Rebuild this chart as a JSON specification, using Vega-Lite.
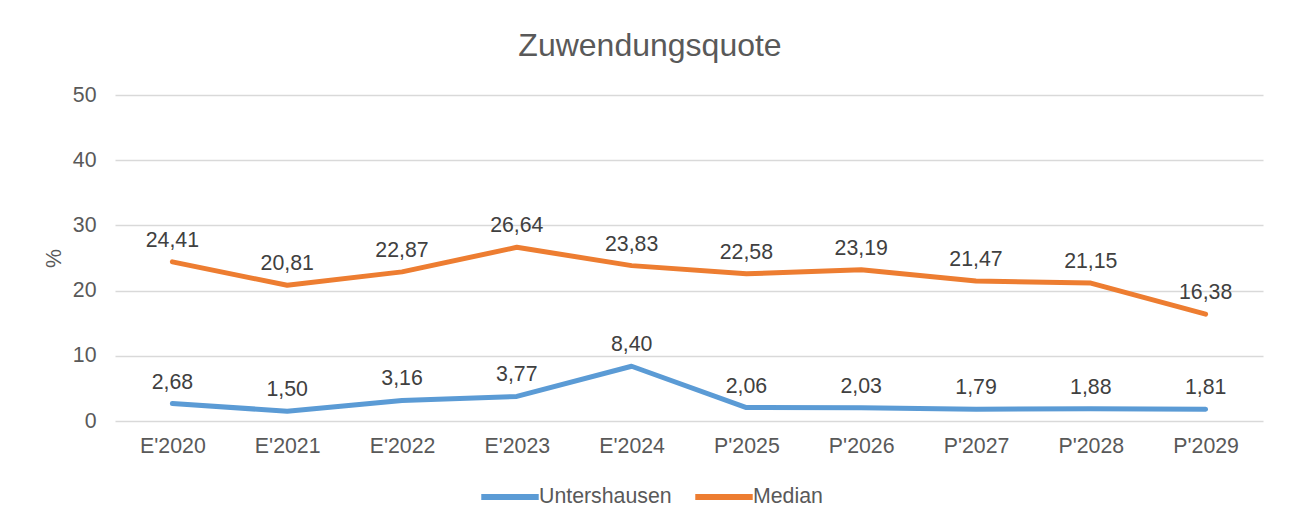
{
  "$schema": "https://vega.github.io/schema/vega-lite/v6.json",
  "autosize": {"type": "none"},
  "width": 1148,
  "height": 326,
  "padding": {"left": 115, "top": 95, "right": 28, "bottom": 105},
  "background": "white",
  "config": {
    "font": "Liberation Sans",
    "view": {"stroke": null},
    "locale": {"number": {"decimal": ",", "thousands": ".", "grouping": [3], "currency": ["", " €"]}}
  },
  "title": {"text": "Zuwendungsquote", "fontSize": 32, "fontWeight": "normal", "color": "#595959", "offset": 21, "dx": -39},
  "data": {"values": [
    {"jahr": "E'2020", "serie": "Untershausen", "wert": 2.68},
    {"jahr": "E'2021", "serie": "Untershausen", "wert": 1.50},
    {"jahr": "E'2022", "serie": "Untershausen", "wert": 3.16},
    {"jahr": "E'2023", "serie": "Untershausen", "wert": 3.77},
    {"jahr": "E'2024", "serie": "Untershausen", "wert": 8.40},
    {"jahr": "P'2025", "serie": "Untershausen", "wert": 2.06},
    {"jahr": "P'2026", "serie": "Untershausen", "wert": 2.03},
    {"jahr": "P'2027", "serie": "Untershausen", "wert": 1.79},
    {"jahr": "P'2028", "serie": "Untershausen", "wert": 1.88},
    {"jahr": "P'2029", "serie": "Untershausen", "wert": 1.81},
    {"jahr": "E'2020", "serie": "Median", "wert": 24.41},
    {"jahr": "E'2021", "serie": "Median", "wert": 20.81},
    {"jahr": "E'2022", "serie": "Median", "wert": 22.87},
    {"jahr": "E'2023", "serie": "Median", "wert": 26.64},
    {"jahr": "E'2024", "serie": "Median", "wert": 23.83},
    {"jahr": "P'2025", "serie": "Median", "wert": 22.58},
    {"jahr": "P'2026", "serie": "Median", "wert": 23.19},
    {"jahr": "P'2027", "serie": "Median", "wert": 21.47},
    {"jahr": "P'2028", "serie": "Median", "wert": 21.15},
    {"jahr": "P'2029", "serie": "Median", "wert": 16.38}
  ]},
  "encoding": {
    "x": {
      "field": "jahr", "type": "ordinal", "sort": null,
      "scale": {"type": "point", "padding": 0.5},
      "axis": {"title": null, "labelAngle": 0, "domain": false, "ticks": false, "grid": false,
               "labelFontSize": 21.3, "labelColor": "#595959", "labelPadding": 14}
    },
    "y": {
      "field": "wert", "type": "quantitative",
      "scale": {"domain": [0, 50], "nice": false},
      "axis": {"title": "%", "titleFontSize": 21.3, "titleFontWeight": "normal", "titleColor": "#595959",
               "titlePadding": 8, "values": [0, 10, 20, 30, 40, 50], "domain": false, "ticks": false,
               "labelFontSize": 21.3, "labelColor": "#595959", "labelPadding": 19,
               "gridColor": "#D9D9D9", "gridWidth": 1.5}
    },
    "color": {
      "field": "serie", "type": "nominal",
      "scale": {"domain": ["Untershausen", "Median"], "range": ["#5B9BD5", "#ED7D31"]},
      "legend": {"title": null, "orient": "none", "direction": "horizontal", "legendX": 363, "legendY": 370,
                 "symbolType": "stroke", "symbolStrokeWidth": 6, "symbolSize": 3300,
                 "labelFontSize": 21.3, "labelColor": "#595959", "columnPadding": 11, "labelOffset": -3}
    }
  },
  "layer": [
    {"mark": {"type": "line", "strokeWidth": 5, "strokeCap": "round", "strokeJoin": "round"}},
    {"mark": {"type": "text", "fontSize": 21.3, "color": "#404040", "baseline": "middle", "dy": -21},
     "encoding": {"text": {"field": "wert", "type": "quantitative", "format": ".2f"}, "color": {"value": "#404040"}}}
  ]
}
